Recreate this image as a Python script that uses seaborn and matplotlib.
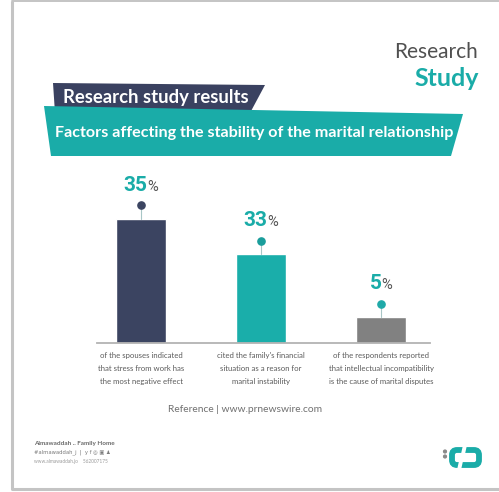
import matplotlib
matplotlib.use("Agg")
import matplotlib.pyplot as plt
import seaborn as sns
import pandas as pd
from matplotlib.patches import Polygon, FancyBboxPatch, Circle
from matplotlib.offsetbox import TextArea, HPacker, AnnotationBbox

categories = [
    "of the spouses indicated\nthat stress from work has\nthe most negative effect",
    "cited the family's financial\nsituation as a reason for\nmarital instability",
    "of the respondents reported\nthat intellectual incompatibility\nis the cause of marital disputes",
]
percent = [35, 33, 5]
bar_heights = [35, 25.1, 7.3]   # drawn heights in the picture (not to scale with percent)
bar_colors = ["#3b4461", "#1aaeaa", "#818181"]
dot_colors = ["#3b4461", "#1a9d9b", "#1fa9a8"]

NAVY = "#3a4160"
TEAL = "#1aaca8"

sns.set_style("white")
plt.rcParams["font.family"] = ["Lato", "DejaVu Sans"]

fig = plt.figure(figsize=(4.99, 4.92), dpi=100)

# background axes in pixel coords for frame, banners, footer
bg = fig.add_axes([0, 0, 1, 1])
bg.set_xlim(0, 499)
bg.set_ylim(492, 0)
bg.axis("off")

# frame (left, top, bottom)
bg.plot([12, 12], [0.5, 489], color="#c4c4c4", lw=2.2, solid_capstyle="butt")
bg.plot([12, 499], [0.7, 0.7], color="#c4c4c4", lw=1.4)
bg.plot([12, 499], [489, 489], color="#c4c4c4", lw=2.2)

# header
bg.text(478, 52, "Research", ha="right", va="center", fontsize=15,
        color="#505050")
bg.text(479, 79, "Study", ha="right", va="center", fontsize=18,
        color=TEAL, fontweight="bold")

# banners
bg.add_patch(Polygon([(53, 83), (265, 85), (250, 113), (55, 113)], closed=True,
                     facecolor=NAVY, edgecolor="none"))
bg.add_patch(Polygon([(44, 106), (463, 114), (451, 156), (51, 156)], closed=True,
                     facecolor=TEAL, edgecolor="none"))
bg.text(63, 98, "Research study results", ha="left", va="center",
        fontsize=13.3, color="white", fontweight="bold")
bg.text(55, 133, "Factors affecting the stability of the marital relationship",
        ha="left", va="center", fontsize=11.6, color="white", fontweight="bold")

# source line
bg.text(245, 409, "Reference | www.prnewswire.com", ha="center", va="center",
        fontsize=7.4, color="#707070")

# footer
bg.text(34, 443, "Almawaddah .. Family Home", ha="left", va="center",
        fontsize=4.6, color="#6a6a6a", fontweight="bold")
bg.text(34, 452, "#almawaddah_j  |  y f ◎ ▣ ♟", ha="left", va="center",
        fontsize=3.8, color="#7a7a7a", family=["DejaVu Sans"])
bg.text(34, 461, "www.almawaddah.jo    562007175", ha="left", va="center",
        fontsize=3.4, color="#9a9a9a")

# logo
bg.add_patch(FancyBboxPatch((452, 450), 27, 15, boxstyle="round,pad=0,rounding_size=5",
                            facecolor="none", edgecolor=TEAL, lw=4.2))
bg.add_patch(Polygon([(463, 445), (467, 445), (465, 454), (461, 454)],
                     facecolor="white", edgecolor="none"))
bg.add_patch(Polygon([(459, 461), (463, 461), (461, 470), (457, 470)],
                     facecolor="white", edgecolor="none"))
bg.add_patch(Circle((445, 451.5), 1.4, color="#8a8a8a"))
bg.add_patch(Circle((445, 456.5), 1.4, color="#8a8a8a"))

# bar chart
ax = fig.add_axes([97 / 499, (492 - 343) / 492, 333 / 499, 173 / 492])
df = pd.DataFrame({"cat": categories, "h": bar_heights})
sns.barplot(data=df, x="cat", y="h", hue="cat", palette=bar_colors,
            width=0.417, legend=False, ax=ax, saturation=1)
ax.set_xlim(-0.367, 2.408)
ax.set_ylim(0, 48.8)
ax.set_xlabel("")
ax.set_ylabel("")
ax.set_yticks([])
sns.despine(ax=ax, left=True)
ax.spines["bottom"].set_color("#b3b3b3")
ax.spines["bottom"].set_linewidth(1.3)
ax.tick_params(axis="x", length=0, pad=6.5, labelsize=5.6, labelcolor="#5a5a5a")
for t in ax.get_xticklabels():
    t.set_linespacing(2.0)

for i, (h, p) in enumerate(zip(bar_heights, percent)):
    dot_y = h + 3.8
    ax.plot([i, i], [h, dot_y], color="#a8c6c6", lw=0.8, zorder=2)
    ax.plot(i, dot_y, "o", ms=5.2, color=dot_colors[i], zorder=3)
    num = TextArea(str(p), textprops=dict(fontsize=15, color=TEAL,
                                          fontweight="bold", family=["Roboto", "DejaVu Sans"]))
    pct = TextArea("%", textprops=dict(fontsize=10.5, color="#555555",
                                       family=["Roboto", "DejaVu Sans"]))
    box = HPacker(children=[num, pct], align="baseline", pad=0, sep=0)
    ab = AnnotationBbox(box, (i, dot_y), xybox=(0, 14.5), boxcoords="offset points",
                        frameon=False, box_alignment=(0.5, 0.5), annotation_clip=False)
    ax.add_artist(ab)

fig.savefig("out.png", dpi=100)
